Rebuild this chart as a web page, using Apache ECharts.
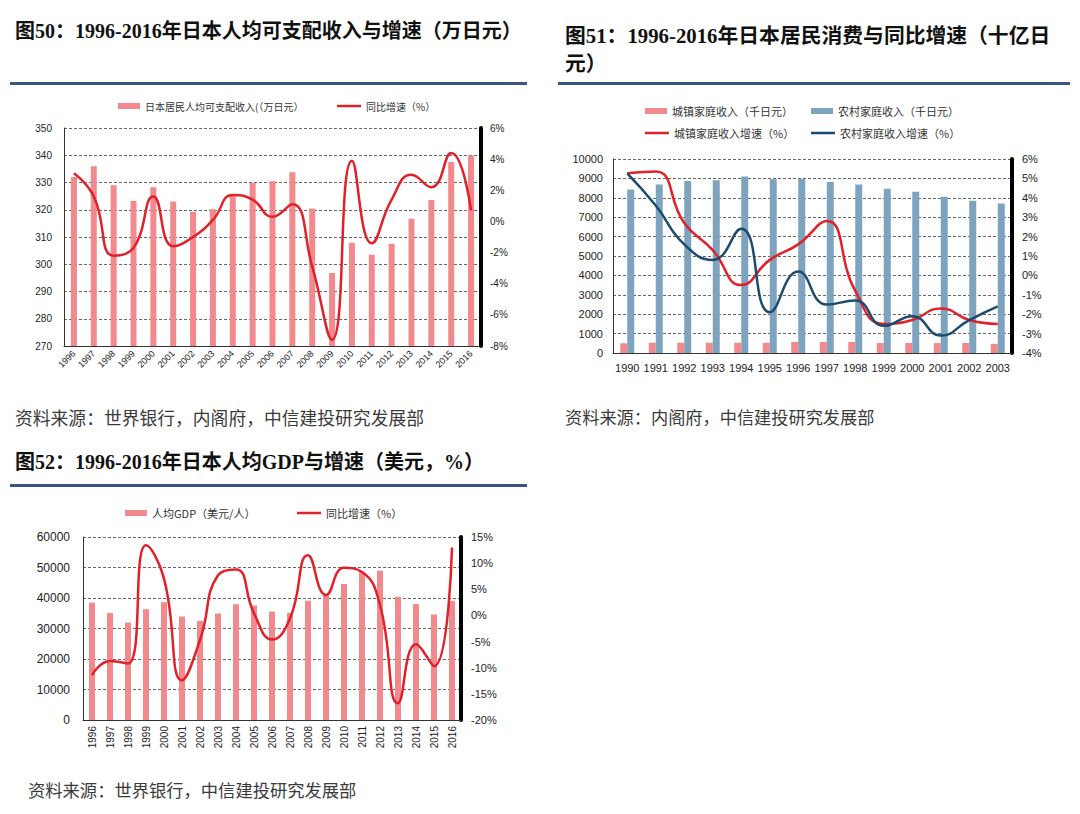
<!DOCTYPE html>
<html><head><meta charset="utf-8">
<script src="https://cdn.jsdelivr.net/npm/echarts@6/dist/echarts.min.js"></script>
<style>html,body{margin:0;padding:0;background:#fff;}#c{width:1080px;height:814px;}</style>
</head><body><div id="c"></div>
<script>
// ---- Chart 50 data ----
const years1 = ['1996','1997','1998','1999','2000','2001','2002','2003','2004','2005','2006','2007','2008','2009','2010','2011','2012','2013','2014','2015','2016'];
const income1 = [332,336,329,323.2,328.3,323,319.3,320.2,325,329.8,330.5,333.8,320.5,296.8,307.9,303.5,307.5,316.7,323.6,337.5,339.9];
const growth1 = [3.1,1.6,-2.2,-1.7,1.6,-1.6,-1.0,0.1,1.7,1.4,0.3,1.1,-2.9,-7.6,3.9,-1.4,1.4,3.0,2.2,4.4,0.7];
const leftTicks1 = {min:270, max:350, interval:10};
const rightTicks1 = {min:-8, max:6, interval:2};

// ---- Chart 51 data ----
const years2 = ['1990','1991','1992','1993','1994','1995','1996','1997','1998','1999','2000','2001','2002','2003'];
const urban2 = [500,530,530,530,530,530,570,570,570,520,520,510,515,470];
const rural2 = [8430,8690,8860,8900,9100,8950,8985,8810,8690,8470,8310,8055,7850,7710];
const urbanGrowth2 = [5.26,5.35,2.7,1.3,-0.5,0.8,1.6,2.8,-0.8,-2.5,-2.3,-1.7,-2.3,-2.5];
const ruralGrowth2 = [5.26,3.6,1.6,0.8,2.4,-1.9,0.2,-1.5,-1.3,-2.6,-2.1,-3.1,-2.3,-1.6];
const leftTicks2 = {min:0, max:10000, interval:1000};
const rightTicks2 = {min:-4, max:6, interval:1};

// ---- Chart 52 data ----
const years3 = years1;
const gdp3 = [38500,35100,31960,36330,38620,33930,32500,34900,37960,37530,35560,35130,39100,40750,44600,48500,48900,40400,38000,34580,39050];
const growth3 = [-11.4,-8.7,-9.2,13.4,7.0,-12.4,-4.7,7.7,8.8,0.4,-4.6,-0.6,11.5,3.9,9.1,8.3,2.0,-16.8,-5.5,-9.7,13.0];
const leftTicks3 = {min:0, max:60000, interval:10000};
const rightTicks3 = {min:-20, max:15, interval:5};

const names = {
  inc1:'日本居民人均可支配收入(（万日元）', g1:'同比增速（%）',
  urb:'城镇家庭收入（千日元）', rur:'农村家庭收入（千日元）',
  ug:'城镇家庭收入增速（%）', rg:'农村家庭收入增速（%）',
  gdp:'人均GDP（美元/人）', g3:'同比增速（%）'
};

const FONT = 'Liberation Sans, Arial, "Noto Sans CJK SC", sans-serif';
const CJK = '"Noto Sans CJK SC", sans-serif';
const TITLEF = '"Liberation Serif", "Noto Sans CJK SC", serif';
const PINK = '#f2898c', RED = '#e2202a', BLUE_BAR = '#7da3bf', NAVY = '#1d4b6f';
const LINE_BLUE = '#3a5584';

function leftAxis(grid, t, fs, margin){
  return {type:'value', gridIndex:grid, min:t.min, max:t.max, interval:t.interval, position:'left',
    axisLine:{show:true, onZero:false, lineStyle:{color:'#333', width:1}}, axisTick:{show:false},
    axisLabel:{color:'#222', fontSize:fs, fontFamily:FONT, margin:margin, formatter:v=>String(v)},
    splitLine:{show:true, lineStyle:{color:'#666', type:[3,2], width:1}}};
}
function rightAxis(grid, t, fs, margin){
  return {type:'value', gridIndex:grid, min:t.min, max:t.max, interval:t.interval, position:'right',
    axisLine:{show:true, onZero:false, lineStyle:{color:'#000', width:4}}, axisTick:{show:false},
    axisLabel:{color:'#222', fontSize:fs, fontFamily:FONT, margin:margin, formatter:v=>v+'%'},
    splitLine:{show:false}};
}
function catAxis(grid, data, fs, rotate, margin){
  return {type:'category', gridIndex:grid, data:data, boundaryGap:true,
    axisLine:{show:true, onZero:false, lineStyle:{color:'#333', width:1}}, axisTick:{show:false},
    axisLabel:{color:'#222', fontSize:fs, fontFamily:FONT, rotate:rotate, margin:margin, interval:0}};
}
function leg(name, left, top, isLine, fs){
  return {data:[name], left:left, top:top, padding:0, itemGap:0,
    icon:'rect', itemWidth: isLine?24:22, itemHeight: isLine?2.5:6,
    textStyle:{fontSize:fs, fontFamily:CJK, color:'#333', lineHeight:14}, selectedMode:false};
}

const option = {
  backgroundColor:'#fff',
  animation:false,
  grid:[
    {left:64, top:128, width:417, height:218},
    {left:613, top:159, width:399, height:194},
    {left:83, top:537, width:378, height:183}
  ],
  legend:[
    leg(names.inc1, 118, 99, false, 10),
    leg(names.g1, 337, 99, true, 10),
    leg(names.urb, 645, 104, false, 11),
    leg(names.rur, 811, 104, false, 11),
    leg(names.ug, 645, 126, true, 11),
    leg(names.rg, 811, 126, true, 11),
    leg(names.gdp, 125, 506, false, 11),
    leg(names.g3, 297, 506, true, 11)
  ],
  xAxis:[
    catAxis(0, years1, 9, 45, 6),
    catAxis(1, years2, 11, 0, 9),
    catAxis(2, years3, 10, 90, 6)
  ],
  yAxis:[
    leftAxis(0, leftTicks1, 10, 12),
    rightAxis(0, rightTicks1, 10, 9),
    leftAxis(1, leftTicks2, 11, 10),
    rightAxis(1, rightTicks2, 11, 10),
    leftAxis(2, leftTicks3, 12, 13),
    rightAxis(2, rightTicks3, 11, 10)
  ],
  series:[
    {name:names.inc1, type:'bar', xAxisIndex:0, yAxisIndex:0, data:income1, barWidth:6, itemStyle:{color:PINK}},
    {name:names.g1, type:'line', xAxisIndex:0, yAxisIndex:1, data:growth1, smooth:0.5, symbol:'none', lineStyle:{color:RED, width:2.5}, itemStyle:{color:RED}, z:5},
    {name:names.urb, type:'bar', xAxisIndex:1, yAxisIndex:2, data:urban2, barWidth:7, barGap:'0%', itemStyle:{color:PINK}},
    {name:names.rur, type:'bar', xAxisIndex:1, yAxisIndex:2, data:rural2, barWidth:7, barGap:'0%', itemStyle:{color:BLUE_BAR}},
    {name:names.ug, type:'line', xAxisIndex:1, yAxisIndex:3, data:urbanGrowth2, smooth:0.5, symbol:'none', lineStyle:{color:RED, width:2.5}, itemStyle:{color:RED}, z:5},
    {name:names.rg, type:'line', xAxisIndex:1, yAxisIndex:3, data:ruralGrowth2, smooth:0.5, symbol:'none', lineStyle:{color:NAVY, width:2.5}, itemStyle:{color:NAVY}, z:6},
    {name:names.gdp, type:'bar', xAxisIndex:2, yAxisIndex:4, data:gdp3, barWidth:6, itemStyle:{color:PINK}},
    {name:names.g3, type:'line', xAxisIndex:2, yAxisIndex:5, data:growth3, smooth:0.5, symbol:'none', lineStyle:{color:RED, width:2.5}, itemStyle:{color:RED}, z:5}
  ],
  graphic:[
    {type:'text', left:15, top:21, style:{text:'图50：1996-2016年日本人均可支配收入与增速（万日元）', font:'bold 20px '+TITLEF, fill:'#111'}},
    {type:'text', left:565, top:21, style:{text:'图51：1996-2016年日本居民消费与同比增速（十亿日\n元）', font:'bold 20.8px '+TITLEF, fill:'#111', lineHeight:28}},
    {type:'rect', shape:{x:10, y:82, width:517, height:3}, style:{fill:LINE_BLUE}},
    {type:'rect', shape:{x:558, y:82, width:512, height:3}, style:{fill:LINE_BLUE}},
    {type:'text', left:15, top:408, style:{text:'资料来源：世界银行，内阁府，中信建投研究发展部', font:'17.8px '+CJK, fill:'#3a3a3a'}},
    {type:'text', left:565, top:408, style:{text:'资料来源：内阁府，中信建投研究发展部', font:'17.2px '+CJK, fill:'#3a3a3a'}},
    {type:'text', left:15, top:452, style:{text:'图52：1996-2016年日本人均GDP与增速（美元，%）', font:'bold 20px '+TITLEF, fill:'#111'}},
    {type:'rect', shape:{x:10, y:484, width:517, height:3}, style:{fill:LINE_BLUE}},
    {type:'text', left:28, top:781, style:{text:'资料来源：世界银行，中信建投研究发展部', font:'17.3px '+CJK, fill:'#3a3a3a'}}
  ]
};
const chart = echarts.init(document.getElementById('c'), null, {renderer:'svg'});
chart.setOption(option);
</script></body></html>
